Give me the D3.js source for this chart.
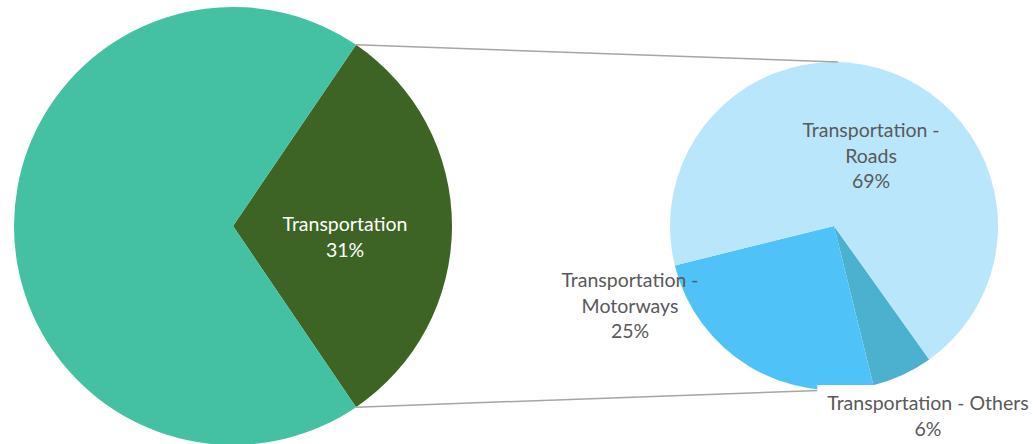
<!DOCTYPE html>
<html>
<head>
<meta charset="utf-8">
<script src="https://cdn.jsdelivr.net/npm/d3@7"></script>
<style>
  body { margin: 0; background: #fff; }
  svg { display: block; font-family: Lato, "Open Sans", sans-serif; }
</style>
</head>
<body>
<svg width="1033" height="444"></svg>
<script>
// main pie
const mainLabels = ["Transportation", "Other"];
const mainValues = [31, 69];
const mainColors = ["#3d6424", "#44c1a3"];

// secondary pie (breakdown of Transportation)
const subLabels = ["Transportation - Others", "Transportation - Motorways", "Transportation - Roads"];
const subValues = [6, 25, 69];
const subColors = ["#4bb1cf", "#4fc3f7", "#bae6fc"];

const svg = d3.select("svg");

const main = { cx: 233, cy: 226, r: 219 };
const sub = { cx: 834, cy: 226, r: 164 };

// transportation slice centred on the right side
const mainStart = Math.PI / 2 - Math.PI * mainValues[0] / 100;
const mainPie = d3.pie().sort(null).startAngle(mainStart).endAngle(mainStart + 2 * Math.PI);
const mainArcs = mainPie(mainValues);
const arcMain = d3.arc().innerRadius(0).outerRadius(main.r);

const gMain = svg.append("g").attr("transform", `translate(${main.cx},${main.cy})`);
gMain.selectAll("path")
  .data(mainArcs)
  .enter().append("path")
  .attr("d", arcMain)
  .attr("fill", (d, i) => mainColors[i]);

const subStart = 144.5 * Math.PI / 180;
const subPie = d3.pie().sort(null).startAngle(subStart).endAngle(subStart + 2 * Math.PI);
const subArcs = subPie(subValues);
const arcSub = d3.arc().innerRadius(0).outerRadius(sub.r);

const gSub = svg.append("g").attr("transform", `translate(${sub.cx},${sub.cy})`);
gSub.selectAll("path")
  .data(subArcs)
  .enter().append("path")
  .attr("d", arcSub)
  .attr("fill", (d, i) => subColors[i]);

// connector lines
const a0 = mainArcs[0].startAngle, a1 = mainArcs[0].endAngle;
const pt = (a, c) => [c.cx + c.r * Math.sin(a), c.cy - c.r * Math.cos(a)];
const lines = [
  [pt(a0, main), [sub.cx + 4, sub.cy - sub.r]],
  [pt(a1, main), [sub.cx, sub.cy + sub.r]]
];
svg.selectAll(".conn")
  .data(lines)
  .enter().append("line")
  .attr("class", "conn")
  .attr("x1", d => d[0][0]).attr("y1", d => d[0][1])
  .attr("x2", d => d[1][0]).attr("y2", d => d[1][1])
  .attr("stroke", "#a6a6a6")
  .attr("stroke-width", 1.5);

// labels
const fs = 19.5;
function label(x, y, lines, color, bg) {
  const g = svg.append("g");
  const t = g.append("text")
    .attr("text-anchor", "middle")
    .attr("font-size", fs)
    .attr("fill", color);
  lines.forEach((s, i) => {
    t.append("tspan").attr("x", x).attr("y", y + i * 25.5).text(s);
  });
  if (bg) {
    const b = t.node().getBBox();
    g.insert("rect", "text")
      .attr("x", b.x - 10).attr("y", y - 25)
      .attr("width", b.width + 20).attr("height", 70)
      .attr("fill", "#fff");
  }
}

label(345, 231, [mainLabels[0], mainValues[0] + "%"], "#fff");
label(871, 137, ["Transportation -", "Roads", subValues[2] + "%"], "#595959");
label(630, 287, ["Transportation -", "Motorways", subValues[1] + "%"], "#595959");
label(928, 410, [subLabels[0], subValues[0] + "%"], "#595959", true);
</script>
</body>
</html>
